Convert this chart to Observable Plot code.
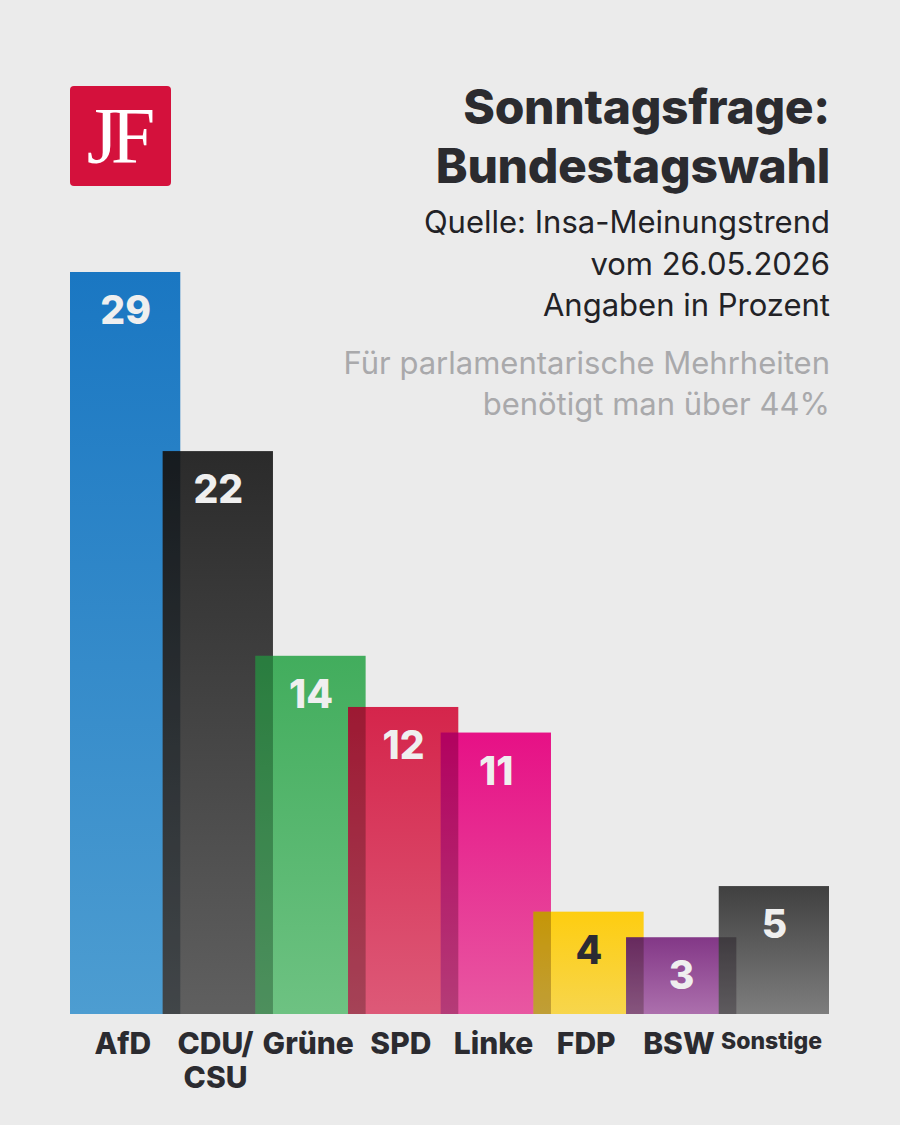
<!DOCTYPE html>
<html>
<head>
<meta charset="utf-8">
<script src="https://cdn.jsdelivr.net/npm/d3@7"></script>
<script src="https://cdn.jsdelivr.net/npm/@observablehq/plot@0.6"></script>
<style>
  html, body { margin: 0; padding: 0; background: #ebebeb; }
  #wrap { position: relative; width: 900px; height: 1125px; overflow: hidden; font-family: Inter, Roboto, "Liberation Sans", sans-serif; }
  #chart { position: absolute; left: 0; top: 0; }
  #logo { position: absolute; left: 70px; top: 86px; width: 101px; height: 100px; background: #d4113c; border-radius: 4px;
          color: #fff; font-family: "Liberation Serif", "DejaVu Serif", serif; font-size: 80px; line-height: 100px; text-align: center; letter-spacing: -7px; text-indent: -6px; }
  .blk { position: absolute; right: 70px; text-align: right; white-space: nowrap; }
  #title { top: 77px; font-size: 48px; line-height: 59px; font-weight: 800; color: #2b2b2f; letter-spacing: -0.3px; }
  #sub { top: 201px; font-size: 31px; line-height: 41.5px; font-weight: 400; color: #222226; }
  #note { top: 342px; font-size: 31px; line-height: 41px; font-weight: 400; color: #a9a9ab; }
</style>
</head>
<body>
<div id="wrap">
  <svg width="0" height="0" style="position:absolute">
    <defs id="grads"></defs>
  </svg>
  <div id="chart"></div>
  <div id="logo">JF</div>
  <div id="title" class="blk">Sonntagsfrage:<br>Bundestagswahl</div>
  <div id="sub" class="blk">Quelle: Insa-Meinungstrend<br>vom 26.05.2026<br>Angaben in Prozent</div>
  <div id="note" class="blk">Für parlamentarische Mehrheiten<br>benötigt man über 44%</div>
</div>
<script>
// ---- data ----
const parties = ["AfD", "CDU/CSU", "Grüne", "SPD", "Linke", "FDP", "BSW", "Sonstige"];
const tickLabels = ["AfD", "CDU/\nCSU", "Grüne", "SPD", "Linke", "FDP", "BSW", "Sonstige"];
const values = [29, 22, 14, 12, 11, 4, 3, 5];

// ---- styles ----
const gradTop    = ["#0a6ebf", "#1c1c1c", "#35a852", "#d3163f", "#e6007e", "#ffcb00", "#7b2a7f", "#333333"];
const gradBottom = ["#4197cf", "#555555", "#64bf7a", "#dc4e6f", "#e84c9c", "#f8d440", "#a766a8", "#757575"];
const labelInk   = ["#efefef", "#efefef", "#efefef", "#efefef", "#efefef", "#2b2b33", "#efefef", "#efefef"];
const barWidth = 1.19; // in steps, bars overlap

// gradients
const defs = d3.select("#grads");
parties.forEach((p, i) => {
  const g = defs.append("linearGradient").attr("id", "g" + i)
    .attr("x1", 0).attr("y1", 0).attr("x2", 0).attr("y2", 1);
  g.append("stop").attr("offset", "0%").attr("stop-color", gradTop[i]);
  g.append("stop").attr("offset", "100%").attr("stop-color", gradBottom[i]);
});

const data = parties.map((p, i) => ({party: p, label: tickLabels[i], value: values[i], i}));

const barMarks = data.flatMap((d, i) => {
  const m = [Plot.rectY([d], {x1: r => r.i, x2: r => r.i + barWidth, y: "value", fill: `url(#g${i})`, fillOpacity: 0.93})];
  if (i > 0) {
    m.push(Plot.rectY([d], {
      x1: r => r.i, x2: r => r.i - 1 + barWidth,
      y: r => Math.min(r.value, values[r.i - 1]),
      fill: "#000", fillOpacity: 0.22
    }));
  }
  return m;
});

const chart = Plot.plot({
  width: 900,
  height: 1125,
  marginLeft: 70,
  marginRight: 71,
  marginTop: 272,
  marginBottom: 111,
  style: {background: "transparent", fontFamily: "Inter, Roboto, 'Liberation Sans', sans-serif"},
  x: {domain: [0, parties.length - 1 + barWidth], axis: null},
  y: {domain: [0, d3.max(values)], axis: null},
  color: {type: "identity"},
  marks: [
    ...barMarks,
    Plot.text(data, {
      x: d => d.i + barWidth / 2, y: "value", text: d => String(d.value),
      dy: 39, lineAnchor: "middle", fontSize: 39, fontWeight: 800, fill: d => labelInk[d.i]
    }),
    Plot.text(data, {
      x: d => d.i + barWidth / 2 - 0.03, y: 0, text: "label",
      lineAnchor: "top", dy: 16, lineHeight: 1.12,
      fontSize: d => d.party === "Sonstige" ? 23 : 30, fontWeight: 800, fill: "#2b2b30"
    })
  ]
});
document.getElementById("chart").appendChild(chart);
</script>
</body>
</html>
